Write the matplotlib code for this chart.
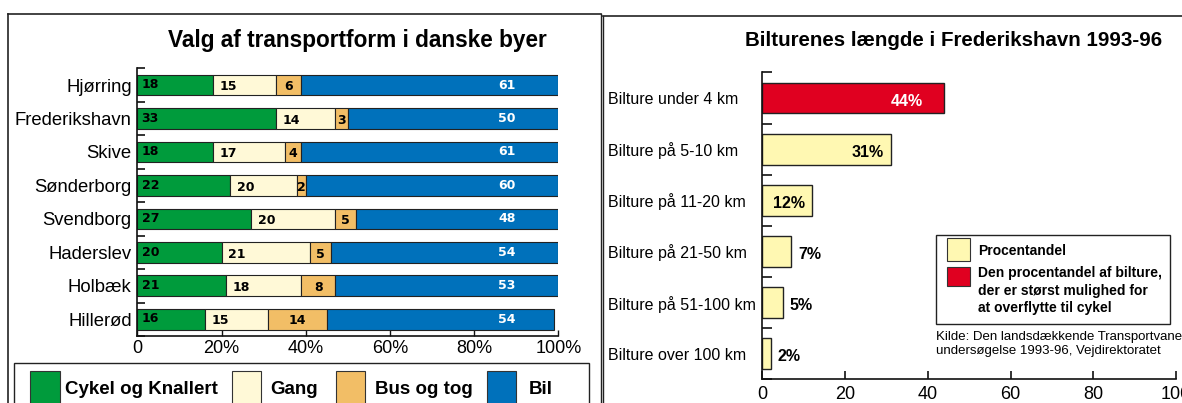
import numpy as np
import matplotlib
matplotlib.use('Agg')
import matplotlib.pyplot as plt
from matplotlib.patches import Rectangle
from matplotlib.lines import Line2D

W, H = 1182, 403
plt.rcParams['font.family'] = ['Liberation Sans', 'DejaVu Sans']

# ---------------- data: left chart ----------------
cities = ['Hjørring', 'Frederikshavn', 'Skive', 'Sønderborg', 'Svendborg',
          'Haderslev', 'Holbæk', 'Hillerød']
cykel = [18, 33, 18, 22, 27, 20, 21, 16]
gang = [15, 14, 17, 20, 20, 21, 18, 15]
# segment widths as drawn in the source (Sønderborg's "Gang" bar is drawn shorter than its label)
gang_drawn = [15, 14, 17, 16, 20, 21, 18, 15]
bus = [6, 3, 4, 2, 5, 5, 8, 14]
bil = [61, 50, 61, 60, 48, 54, 53, 54]
modes = ['Cykel og Knallert', 'Gang', 'Bus og tog', 'Bil']
xticks_left = [0, 20, 40, 60, 80, 100]
xticklabels_left = ['0', '20%', '40%', '60%', '80%', '100%']

# ---------------- data: right chart ----------------
trips = ['Bilture under 4 km', 'Bilture på 5-10 km', 'Bilture på 11-20 km',
         'Bilture på 21-50 km', 'Bilture på 51-100 km', 'Bilture over 100 km']
shares = [44, 31, 12, 7, 5, 2]
highlight = [True, False, False, False, False, False]
xticks_right = [0, 20, 40, 60, 80, 100]

# colours
C_GREEN = '#009B3C'
C_GANG = '#FFF9D7'
C_BUS = '#F2BE66'
C_BIL = '#0071BB'
C_RED = '#E00020'
C_YEL = '#FFF8B2'
EDGE = '#222222'

fig = plt.figure(figsize=(W / 100, H / 100), dpi=100)


def fx(px):
    return px / W


def fy(py):
    return 1 - py / H


# ---------------- frames ----------------
for (x0, y0, x1, y1, lw) in [(8, 14, 600.5, 14, 1.2), (8, 14, 8, 403, 1.2),
                             (600.5, 14, 600.5, 403, 1.0), (603, 15.5, 603, 403, 1.0),
                             (603, 15.5, 1182, 15.5, 1.2)]:
    fig.add_artist(Line2D([fx(x0), fx(x1)], [fy(y0), fy(y1)], color='#222222', lw=lw))

# ---------------- left chart ----------------
axL = fig.add_axes([fx(137.3), fy(336), (558.3 - 137.3) / W, (336 - 68.3) / H])
y = np.arange(len(cities))
left = np.zeros(len(cities))
bh = 0.62
segs = [(cykel, cykel, C_GREEN), (gang_drawn, gang, C_GANG), (bus, bus, C_BUS), (bil, bil, C_BIL)]
for k, (widths, labels, col) in enumerate(segs):
    axL.barh(y, widths, left=left, height=bh, color=col, edgecolor=EDGE, linewidth=0.8, zorder=2)
    for i in range(len(cities)):
        txtkw = dict(fontsize=9, fontweight='bold', family='DejaVu Sans', zorder=3)
        if k == 0:
            axL.text(left[i] + 1.0, y[i] - 0.01, str(labels[i]), ha='left', va='center', color='black', **txtkw)
        elif k == 1:
            axL.text(left[i] + 1.6, y[i] + 0.05, str(labels[i]), ha='left', va='center', color='black', **txtkw)
        elif k == 2:
            axL.text(left[i] + widths[i] / 2, y[i] + 0.05, str(labels[i]), ha='center', va='center', color='black', **txtkw)
        else:
            axL.text(87.8, y[i], str(labels[i]), ha='center', va='center', color='white', **txtkw)
    left = left + np.array(widths)

axL.set_xlim(0, 100)
axL.set_ylim(len(cities) - 0.5, -0.5)
for s in ['top', 'right']:
    axL.spines[s].set_visible(False)
for s in ['left', 'bottom']:
    axL.spines[s].set_linewidth(1.2)
    axL.spines[s].set_color('#111111')
axL.set_yticks(y)
axL.set_yticklabels(cities, fontsize=13.3)
axL.set_yticks(np.arange(-0.5, len(cities), 1), minor=True)
axL.tick_params(axis='y', which='major', length=0, pad=4.0)
axL.tick_params(axis='y', which='minor', length=5.5, width=1.2, direction='in', color='#111111')
axL.set_xticks(xticks_left)
axL.set_xticklabels(xticklabels_left, fontsize=13)
axL.tick_params(axis='x', length=4.3, width=1.0, direction='in', pad=3, color='#111111')

fig.text(fx(357.5), fy(40), 'Valg af transportform i danske byer', fontsize=16.3, fontweight='bold',
         ha='center', va='center')

# left legend
fig.add_artist(Rectangle((fx(13.5), fy(420)), (589 - 13.5) / W, (420 - 363.3) / H,
                         transform=fig.transFigure, fill=False, edgecolor='#222222', lw=1.0))
leg_patch_x = [30, 231.5, 335.6, 486.8]
leg_text_x = [65, 269.8, 375, 529]
for px, tx, col, lab in zip(leg_patch_x, leg_text_x, [C_GREEN, C_GANG, C_BUS, C_BIL], modes):
    fig.add_artist(Rectangle((fx(px), fy(410)), 29.5 / W, (410 - 370.7) / H,
                             transform=fig.transFigure, facecolor=col, edgecolor='#333333', lw=0.8))
    fig.text(fx(tx), fy(389), lab, fontsize=13.5, fontweight='bold', ha='left', va='center')

# ---------------- right chart ----------------
axR = fig.add_axes([fx(762.3), fy(379.4), (1176 - 762.3) / W, (379.4 - 72.4) / H])
yr = np.arange(len(trips))
cols = [C_RED if h else C_YEL for h in highlight]
axR.barh(yr, shares, height=0.6, color=cols, edgecolor=EDGE, linewidth=1.0, zorder=2)
for i, v in enumerate(shares):
    kw = dict(fontsize=11.5, fontweight='bold', va='center', zorder=3)
    if highlight[i]:
        axR.text(v - 5.2, yr[i] + 0.06, f'{v}%', ha='right', color='white', **kw)
    elif v >= 10:
        axR.text(v - 1.6, yr[i] + 0.06, f'{v}%', ha='right', color='black', **kw)
    else:
        axR.text(v + 1.6, yr[i] + 0.06, f'{v}%', ha='left', color='black', **kw)

axR.set_xlim(0, 100)
axR.set_ylim(len(trips) - 0.5, -0.5)
for s in ['top', 'right']:
    axR.spines[s].set_visible(False)
for s in ['left', 'bottom']:
    axR.spines[s].set_linewidth(1.2)
    axR.spines[s].set_color('#111111')
axR.set_yticks(yr)
axR.set_yticklabels(trips, fontsize=11.5, ha='left')
axR.set_yticks(np.arange(-0.5, len(trips), 1), minor=True)
axR.tick_params(axis='y', which='major', length=0, pad=(762.3 - 608) * 0.72)
axR.tick_params(axis='y', which='minor', length=7, width=1.2, direction='in', color='#111111')
axR.set_xticks(xticks_right)
axR.set_xticklabels([str(t) for t in xticks_right], fontsize=13)
axR.tick_params(axis='x', length=5.5, width=1.2, direction='in', pad=4.5, color='#111111')

fig.text(fx(953.6), fy(40), 'Bilturenes længde i Frederikshavn 1993-96', fontsize=14.8,
         fontweight='bold', ha='center', va='center')

# right legend
fig.add_artist(Rectangle((fx(936), fy(324)), (1170 - 936) / W, (324 - 235) / H,
                         transform=fig.transFigure, fill=False, edgecolor='#222222', lw=1.0))
fig.add_artist(Rectangle((fx(946.5), fy(261)), 23.5 / W, 23 / H, transform=fig.transFigure,
                         facecolor=C_YEL, edgecolor='#333333', lw=0.8))
fig.add_artist(Rectangle((fx(946.5), fy(286)), 23.5 / W, 19.5 / H, transform=fig.transFigure,
                         facecolor=C_RED, edgecolor='#333333', lw=0.8))
fig.text(fx(978), fy(251), 'Procentandel', fontsize=10, fontweight='bold', ha='left', va='center')
fig.text(fx(978), fy(266), 'Den procentandel af bilture,\nder er størst mulighed for\nat overflytte til cykel',
         fontsize=10, fontweight='bold', ha='left', va='top', linespacing=1.32)
fig.text(fx(936), fy(344), 'Kilde: Den landsdækkende Transportvane-\nundersøgelse 1993-96, Vejdirektoratet',
         fontsize=9.5, ha='left', va='center', linespacing=1.3)

fig.savefig('out.png', dpi=100)
